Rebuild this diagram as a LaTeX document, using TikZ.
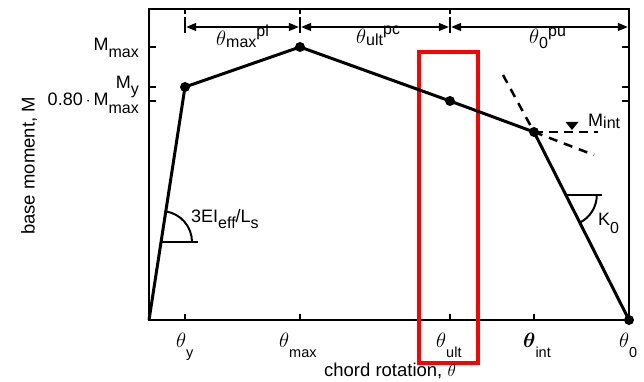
\documentclass[tikz,border=0pt]{standalone}
\usepackage{amsmath}
\usepackage{fontspec}
\setmainfont{Liberation Sans}
\usetikzlibrary{arrows.meta}
\newcommand{\lsub}[2][8pt]{\raisebox{-#1}{\fontsize{16}{16}\selectfont #2}}
\newcommand{\lsup}[2][8pt]{\raisebox{#1}{\fontsize{16}{16}\selectfont #2}}
\newcommand{\bsub}[1]{\raisebox{-10pt}{\fontsize{14.5}{14.5}\selectfont #1}}
\newcommand{\mytheta}{{\fontsize{20}{20}\selectfont$\theta$}}
\tikzset{
  curve/.style={line width=3pt, line join=round},
  frame/.style={line width=2pt},
  tick/.style={line width=1.5pt},
  dimbar/.style={line width=2.5pt},
  dimline/.style={line width=1.5pt, {Triangle[length=10pt,width=8pt]}-{Triangle[length=10pt,width=8pt]}, shorten <=1.2pt, shorten >=1.2pt},
  dot/.style={circle, fill=black, inner sep=0pt, minimum size=10pt},
  dashline/.style={line width=2.5pt, dash pattern=on 9pt off 7pt},
  lbl/.style={inner sep=0pt, font=\fontsize{18}{18}\selectfont},
  axlbl/.style={inner sep=0pt, font=\fontsize{18.5}{18.5}\selectfont}
}
\begin{document}
\begin{tikzpicture}[x=1pt,y=1pt]
\useasboundingbox (0,0) rectangle (644,382);
% points
\coordinate (O) at (149,62);
\coordinate (A) at (185,295);
\coordinate (B) at (300,335);
\coordinate (C) at (450,281);
\coordinate (D) at (534,250);
\coordinate (E) at (629,62);
% frame
\draw[frame] (149,62) rectangle (629,373);
% left / right ticks
\foreach \yy in {335,295,281}{
  \draw[tick] (149,\yy) -- (156,\yy);
  \draw[tick] (629,\yy) -- (622,\yy);
}
% bottom ticks
\foreach \xx in {185,300,450,534}{
  \draw[tick] (\xx,62) -- (\xx,68);
}
% top ticks and dimension bars
\foreach \xx in {185,300,450}{
  \draw[tick] (\xx,373) -- (\xx,368);
  \draw[dimbar] (\xx,365) -- (\xx,349);
}
\coordinate (t1) at (185,355);
\coordinate (t2) at (300,355);
\coordinate (t3) at (450,355);
\coordinate (t4) at (629,355);
\draw[dimline] (t1) -- (t2);
\draw[dimline] (t2) -- (t3);
\draw[dimline] (t3) -- (t4);
% red rectangle
\draw[red, line width=4pt] (419,330) rectangle (478,19);
% dashed lines
\coordinate (d1) at (503,307);
\coordinate (d2) at (594,227);
\coordinate (d3) at (598,250);
\draw[dashline] (d1) -- (D);
\draw[dashline] (D) -- (d2);
\draw[line width=1.5pt, dash pattern=on 9pt off 6pt] (D) -- (d3);
\fill (565.5,260) -- (578.5,260) -- (572,252) -- cycle;
% curve
\draw[curve] (O) -- (A) -- (B) -- (C) -- (D) -- (E);
\foreach \p in {A,B,C,D,E}{ \node[dot] at (\p) {}; }
% stiffness angles
\draw[line width=2pt] (161.05,140) -- (198,140);
\draw[line width=2pt] (192,140) arc[start angle=0, end angle=81.2, radius=30.95];
\draw[line width=2pt] (565.8,187) -- (602,187);
\draw[line width=2pt] (596.8,187) arc[start angle=0, end angle=-63.2, radius=31];
% labels
\node[lbl, anchor=base east] (lmmax) at (139,331) {M\lsub[7pt]{max}};
\node[lbl, anchor=base east] (lmy) at (139,293) {M\lsub[6pt]{y}};
\node[lbl, anchor=base east] (lm08) at (139,276) {0.80\,$\cdot$\,M\lsub[8pt]{max}};
\node[lbl, anchor=base west] (lty) at (176,34) {\mytheta\bsub{y}};
\node[lbl, anchor=base west] (ltmax) at (279,34) {\mytheta\bsub{max}};
\node[lbl, anchor=base west] (ltult) at (436,34) {\mytheta\bsub{ult}};
\node[lbl, anchor=base west] (ltint) at (523,34) {{\fontsize{20}{20}\selectfont$\boldsymbol{\theta}$}\bsub{int}};
\node[lbl, anchor=base west] (lt0) at (619,34) {\mytheta\bsub{0}};
\node[lbl, anchor=base west] (lpl) at (216,336) {\mytheta\lsub[2pt]{max}\lsup[9pt]{pl}};
\node[lbl, anchor=base west] (lpc) at (356,338) {\mytheta\lsub[2pt]{ult}\lsup[9pt]{pc}};
\node[lbl, anchor=base west] (lpu) at (529,338) {\mytheta\lsub[5pt]{0}\lsup[7pt]{pu}};
\node[lbl, anchor=base west] (lmint) at (588,255) {M\lsub[2pt]{int}};
\node[lbl, anchor=base west] (lei) at (191,159) {3EI\lsub[6pt]{eff}/L\lsub[6pt]{s}};
\node[lbl, anchor=base west] (lk0) at (598,156) {K\lsub[8pt]{0}};
\node[axlbl, anchor=base] (xl) at (390,5) {chord rotation, $\theta$};
\node[axlbl, rotate=90] (yl) at (29,216) {base moment, M};
\end{tikzpicture}
\end{document}
